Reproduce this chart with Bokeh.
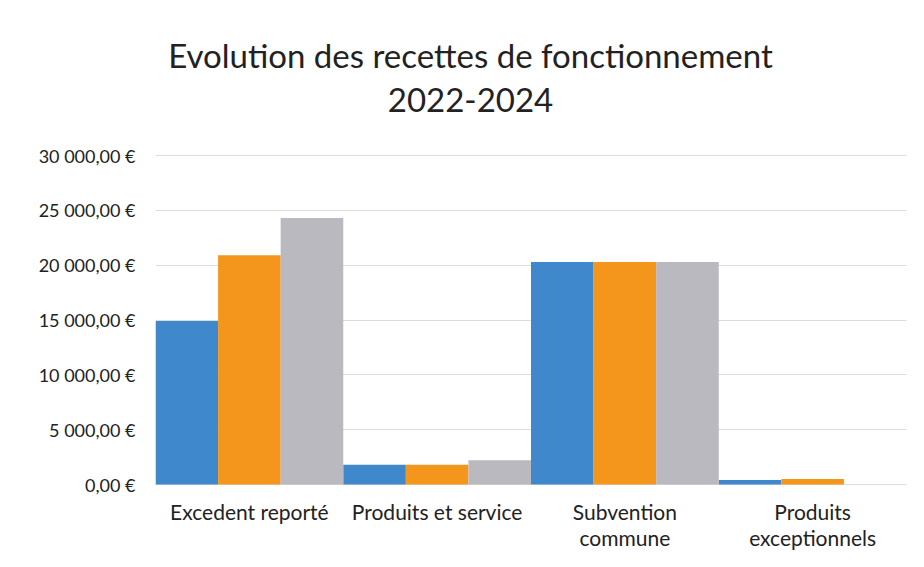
from bokeh.plotting import figure
from bokeh.models import ColumnDataSource, Range1d, FactorRange, FixedTicker
from bokeh.core.properties import value
from bokeh.transform import dodge
from bokeh.embed import file_html
from bokeh.resources import INLINE

categories = ["Excedent reporté", "Produits et service", "Subvention commune", "Produits exceptionnels"]
category_labels = ["Excedent reporté", "Produits et service", "Subvention\ncommune", "Produits\nexceptionnels"]
years = ["2022", "2023", "2024"]
v2022 = [14900, 1800, 20300, 400]
v2023 = [20900, 1800, 20300, 500]
v2024 = [24300, 2200, 20300, 0]
y_ticks = [0, 5000, 10000, 15000, 20000, 25000, 30000]
y_tick_labels = ["0,00 €", "5 000,00 €", "10 000,00 €", "15 000,00 €", "20 000,00 €", "25 000,00 €", "30 000,00 €"]
title_line1 = "Evolution des recettes de fonctionnement"
title_line2 = "2022-2024"
colors = ["#3f88cc", "#f4961c", "#b9b9bf"]

FONT = "Lato"
TXT = "#222222"

# ---- layout (pixels, figure coordinates) ----
W, H = 916, 559
BORDER_TOP, BORDER_BOTTOM = 0, 0
BORDER_LEFT = 155
FRAME_RIGHT = 906
BORDER_RIGHT = W - FRAME_RIGHT
Y0_PX = 484          # pixel row of value 0
YMAX_PX = 155        # pixel row of value 30000
YMAX = 30000
frame_bottom = H - BORDER_BOTTOM
frame_h = H - BORDER_TOP - BORDER_BOTTOM
px_per_unit = (Y0_PX - YMAX_PX) / YMAX
y_start = -(frame_bottom - Y0_PX) / px_per_unit
y_end = y_start + frame_h / px_per_unit

def py(row):
    """data y for a pixel row (figure coords)"""
    return (Y0_PX - row) / px_per_unit

def px(col):
    """category-unit x for a pixel column (figure coords)"""
    return (col - BORDER_LEFT) / (FRAME_RIGHT - BORDER_LEFT) * len(categories)

src = ColumnDataSource(dict(cat=categories, v2022=v2022, v2023=v2023, v2024=v2024))

p = figure(width=W, height=H, x_range=FactorRange(*categories, range_padding=0, factor_padding=0),
           y_range=Range1d(y_start, y_end), output_backend="svg", toolbar_location=None,
           min_border_left=BORDER_LEFT, min_border_right=BORDER_RIGHT,
           min_border_top=BORDER_TOP, min_border_bottom=BORDER_BOTTOM)

p.outline_line_color = None
p.background_fill_color = "white"
p.border_fill_color = "white"

p.xgrid.grid_line_color = None
p.ygrid.grid_line_color = "#dcdcdc"
p.ygrid.grid_line_width = 1
p.ygrid.ticker = FixedTicker(ticks=y_ticks)

w = 1.0 / 3
for i, (col, c) in enumerate(zip(["v2022", "v2023", "v2024"], colors)):
    p.vbar(x=dodge("cat", (i - 1) * w, range=p.x_range), top=col, width=w, bottom=0,
           source=src, fill_color=c, line_color=None)

p.yaxis.ticker = FixedTicker(ticks=y_ticks)
p.yaxis.major_label_overrides = {t: l for t, l in zip(y_ticks, y_tick_labels)}
p.yaxis.axis_line_color = None
p.yaxis.major_tick_line_color = None
p.yaxis.minor_tick_line_color = None
p.yaxis.major_label_text_font = FONT
p.yaxis.major_label_text_font_size = "18px"
p.yaxis.major_label_text_color = TXT
p.yaxis.major_label_standoff = 14

p.xaxis.visible = False

# category labels under the bars (top aligned, like the original)
lab = ColumnDataSource(dict(cat=categories, text=category_labels, y=[py(498)] * len(categories)))
p.text(x="cat", y="y", text="text", source=lab, text_font=value(FONT), text_font_size="21px",
       text_align="center", text_baseline="top", text_color=TXT, text_line_height=1.05)

# title
tx = px(470)
p.text(x=[tx, tx], y=[py(54), py(99)], text=[title_line1, title_line2], text_font=value(FONT),
       text_font_size="33px", text_align="center", text_baseline="middle", text_color=TXT)

open("out.html", "w").write(file_html(p, INLINE))
